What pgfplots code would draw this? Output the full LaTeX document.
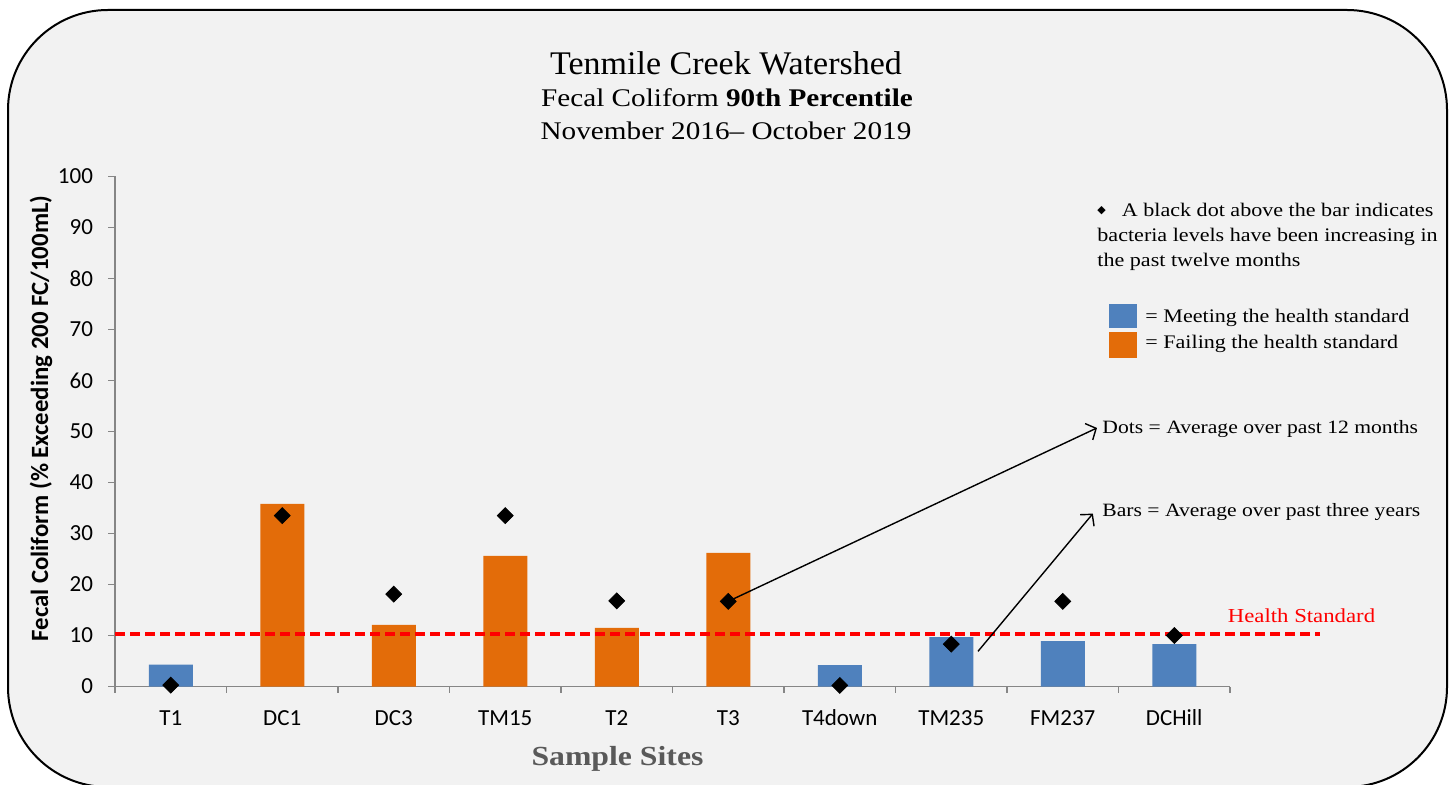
\documentclass[border=0pt]{standalone}
\usepackage{fontspec}
\usepackage{pgfplots}
\pgfplotsset{compat=1.18}
\usetikzlibrary{arrows.meta}
\setmainfont{Carlito}
\newfontfamily\cambria[FakeStretch=1.15]{Liberation Serif}
\newfontfamily\titlefont[FakeStretch=1.03]{Liberation Serif}
\newfontfamily\djv{DejaVu Sans}
\definecolor{bgc}{HTML}{F2F2F2}
\definecolor{barblue}{HTML}{4F81BD}
\definecolor{barorange}{HTML}{E36C09}
\definecolor{axgray}{HTML}{868686}
\definecolor{labgray}{HTML}{595959}
\begin{document}
\begin{tikzpicture}
\begin{scope}[x=0.5pt,y=-0.5pt]
\useasboundingbox (0,0) rectangle (1454,785);
\begin{scope}
\clip (0,0) rectangle (1454,785);
\fill[white] (0,0) rectangle (1454,785);
\draw[black, line width=1pt, fill=bgc, rounded corners=50pt] (8,10) rectangle (1447,787);
\end{scope}
\end{scope}

\begin{axis}[
 at={(57.5pt,-343.25pt)}, anchor=south west,
 scale only axis, width=557.5pt, height=255pt,
 xmin=-0.5, xmax=9.5, ymin=0, ymax=100,
 axis x line*=bottom, axis y line*=left,
 axis line style={draw=axgray, line width=0.75pt, -},
 xtick={0,...,9},
 xticklabels={T1,DC1,DC3,TM15,T2,T3,T4down,TM235,FM237,DCHill},
 minor xtick={-0.5,0.5,...,9.5},
 major x tick style={draw=none},
 minor x tick style={draw=axgray, line width=0.75pt},
 minor tick length=3pt,
 ytick={0,10,...,100},
 major y tick style={draw=axgray, line width=0.75pt},
 major tick length=3.5pt,
 tick align=outside,
 tick label style={font=\fontsize{11.5}{13}\selectfont, /pgf/number format/assume math mode=true},
 xticklabel style={anchor=base, yshift=-16pt},
 yticklabel style={xshift=-4pt},
 clip=false,
]
\addplot[ybar, bar width=22pt, bar shift=0pt, fill=barblue, draw=none] coordinates {(0,4.3) (6,4.2) (7,9.7) (8,8.9) (9,8.3)};
\addplot[ybar, bar width=22pt, bar shift=0pt, fill=barorange, draw=none] coordinates {(1,35.8) (2,12.1) (3,25.6) (4,11.5) (5,26.2)};
\addplot[red, line width=2pt, dash pattern=on 5pt off 2.5pt] coordinates {(-0.5,10.3) (10.31,10.3)};
\addplot[only marks, mark=square*, mark size=2.8pt, mark options={rotate=45, fill=black, draw=black}] coordinates {(0,0.25) (1,33.5) (2,18.1) (3,33.5) (4,16.8) (5,16.7) (6,0.2) (7,8.3) (8,16.7) (9,10.0)};
\draw[line width=0.7pt, -{Straight Barb[length=4pt,width=9pt]}] (axis cs:5,16.7) -- (axis cs:8.307,50.7);
\draw[line width=0.7pt, -{Straight Barb[length=4pt,width=9pt]}] (axis cs:7.24,6.9) -- (axis cs:8.27,33.9);
\end{axis}

\begin{scope}[x=0.5pt,y=-0.5pt]
\node[anchor=base, inner sep=0pt, font=\titlefont\fontsize{16.5}{18}\selectfont] at (726,75) {Tenmile Creek Watershed};
\node[anchor=base, inner sep=0pt, font=\cambria\fontsize{12.7}{14}\selectfont] at (727,106.7) {Fecal Coliform \textbf{90th Percentile}};
\node[anchor=base, inner sep=0pt, font=\cambria\fontsize{12.7}{14}\selectfont] at (726,140) {November 2016– October 2019};
\node[rotate=90, inner sep=0pt, font=\bfseries\fontsize{12.4}{14}\selectfont] at (41,418.5) {Fecal Coliform (\% Exceeding 200 FC/100mL)};
\node[anchor=base, inner sep=0pt, text=labgray, font=\cambria\bfseries\fontsize{13.8}{16}\selectfont] at (617.5,765) {Sample Sites};
% legend text
\node[anchor=center, inner sep=0pt, font=\djv\fontsize{5.5}{6}\selectfont] at (1101.5,211) {◆};
\node[anchor=base west, inner sep=0pt, font=\cambria\fontsize{9.6}{11}\selectfont] at (1121.5,216.7) {A black dot above the bar indicates};
\node[anchor=base west, inner sep=0pt, font=\cambria\fontsize{9.6}{11}\selectfont] at (1097,241.7) {bacteria levels have been increasing in};
\node[anchor=base west, inner sep=0pt, font=\cambria\fontsize{9.6}{11}\selectfont] at (1097,267) {the past twelve months};
\fill[barblue] (1109,304) rectangle (1137,328);
\fill[barorange] (1109,332) rectangle (1137,358);
\node[anchor=base west, inner sep=0pt, font=\cambria\fontsize{9.6}{11}\selectfont] at (1145,323) {= Meeting the health standard};
\node[anchor=base west, inner sep=0pt, font=\cambria\fontsize{9.6}{11}\selectfont] at (1145,349) {= Failing the health standard};
\node[anchor=base west, inner sep=0pt, font=\cambria\fontsize{9.4}{11}\selectfont] at (1102,433) {Dots = Average over past 12 months};
\node[anchor=base west, inner sep=0pt, font=\cambria\fontsize{9.4}{11}\selectfont] at (1102,516.7) {Bars = Average over past three years};
\node[anchor=base, inner sep=0pt, text=red, font=\cambria\fontsize{9.9}{11}\selectfont] at (1301.5,622) {Health Standard};
\end{scope}
\end{tikzpicture}
\end{document}
